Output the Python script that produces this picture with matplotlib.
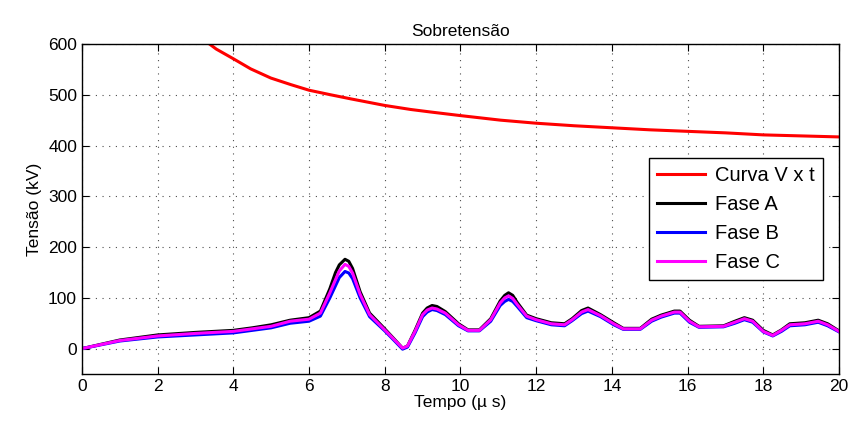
import matplotlib
matplotlib.use("Agg")
import matplotlib.pyplot as plt

# curva V x t (suportabilidade)
t_vt = [3.37, 3.55, 4.0, 4.46, 4.99, 5.52, 6.0, 6.57, 7.1, 8.0, 8.69, 9.22,
        10.0, 11.06, 12.0, 13.0, 14.0, 15.0, 16.0, 17.0, 18.0, 19.0, 20.0]
v_vt = [600, 590, 571, 551, 533, 520, 509, 500, 492, 479, 471, 466,
        459, 450, 444, 439, 435, 431, 428, 425, 421, 419, 417]

# tensões nas fases
tempo = [0, 1, 2, 3, 4, 4.5, 5, 5.5, 6, 6.3, 6.55, 6.7, 6.8, 6.95, 7.05, 7.15,
         7.35, 7.6, 8.0, 8.25, 8.47, 8.6, 8.8, 9.0, 9.12, 9.25, 9.38, 9.6,
         9.95, 10.2, 10.5, 10.8, 11.05, 11.17, 11.27, 11.38, 11.5, 11.75,
         12.0, 12.4, 12.75, 12.95, 13.2, 13.37, 13.7, 14.05, 14.3, 14.75,
         15.05, 15.3, 15.65, 15.8, 16.05, 16.3, 16.95, 17.25, 17.5, 17.72,
         18.0, 18.25, 18.48, 18.7, 19.1, 19.45, 19.7, 20.0]
fase_a = [0, 17, 27, 32, 36, 41, 47, 56, 61, 74, 118, 150, 165, 176, 172, 158,
          112, 70, 39, 19, 1, 5, 36, 70, 80, 85, 83, 73,
          49, 37, 37, 59, 94, 105, 110, 105, 91, 66,
          59, 51, 49, 59, 75, 80, 67, 51, 40, 40,
          58, 66, 74, 74, 56, 44, 45, 54, 61, 56,
          36, 27, 37, 49, 51, 56, 49, 35]
fase_b = [0, 15, 23, 27, 31, 36, 41, 50, 54, 64, 100, 124, 140, 152, 149, 138,
          100, 63, 35, 16, -1, 3, 31, 63, 72, 77, 75, 67,
          45, 35, 35, 54, 85, 93, 97, 93, 83, 61,
          55, 47, 45, 55, 69, 74, 63, 47, 38, 38,
          54, 62, 70, 70, 52, 42, 43, 50, 57, 52,
          33, 25, 34, 45, 47, 52, 45, 33]
fase_c = [0, 16, 25, 30, 34, 39, 44, 54, 58, 70, 110, 136, 153, 166, 162, 149,
          107, 67, 37, 18, 1, 5, 34, 67, 76, 80, 78, 70,
          47, 36, 36, 57, 90, 100, 104, 99, 87, 64,
          57, 49, 47, 57, 72, 77, 65, 49, 39, 39,
          56, 64, 72, 72, 54, 43, 44, 52, 59, 54,
          34, 26, 36, 47, 49, 54, 47, 34]

x_ticks = list(range(0, 21, 2))
y_ticks = list(range(0, 601, 100))

plt.rcParams['font.family'] = ['Liberation Sans', 'DejaVu Sans']

fig = plt.figure(figsize=(8.53, 4.26), dpi=100, facecolor='white')
ax = fig.add_axes([0.096, 0.122, 0.8876, 0.7747])

ax.plot(t_vt, v_vt, color='#ff0000', lw=2.2, label='Curva V x t')
ax.plot(tempo, fase_a, color='black', lw=2.2, label='Fase A')
ax.plot(tempo, fase_b, color='#0000ff', lw=2.2, label='Fase B')
ax.plot(tempo, fase_c, color='#ff00ff', lw=2.2, label='Fase C')

ax.set_xlim(0, 20)
ax.set_ylim(-50, 600)
ax.set_xticks(x_ticks)
ax.set_yticks(y_ticks)
ax.tick_params(direction='in', top=True, right=True, labelsize=12.5, length=5)
ax.grid(True, linestyle=(0, (1, 5)), color='black', lw=0.8, alpha=0.7)
for s in ax.spines.values():
    s.set_linewidth(1.0)

ax.set_title('Sobretensão', fontsize=12.5, pad=6)
ax.set_xlabel('Tempo (\u00b5 s)', fontsize=12.5, labelpad=1)
ax.set_ylabel('Tensão (kV)', fontsize=12.5, labelpad=4)

leg = ax.legend(loc='lower right', bbox_to_anchor=(0.979, 0.285), fontsize=14.5,
                fancybox=False, framealpha=1, edgecolor='black',
                handlelength=2.4, borderpad=0.4, labelspacing=0.5,
                handletextpad=0.5, borderaxespad=0)
leg.get_frame().set_linewidth(1.0)

fig.savefig('out.png', dpi=100, facecolor='white')
